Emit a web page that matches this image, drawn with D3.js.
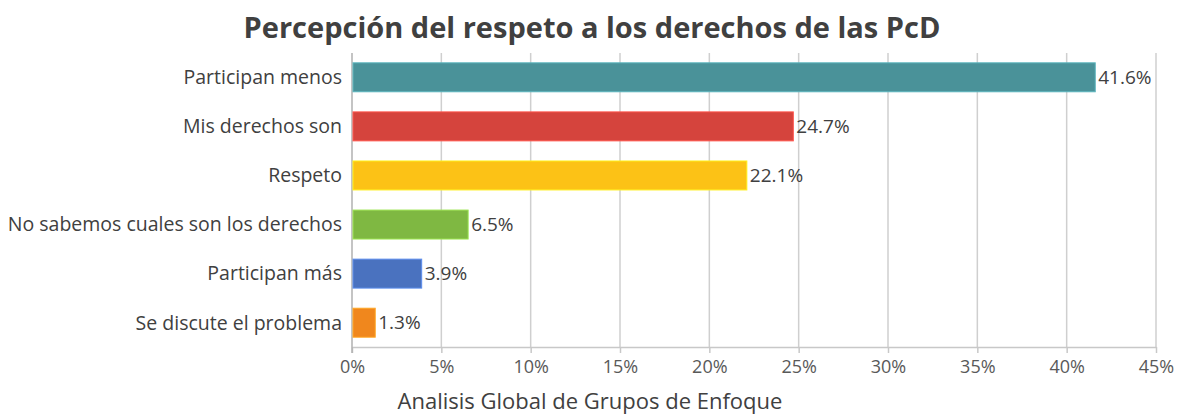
<!DOCTYPE html>
<html>
<head>
<meta charset="utf-8">
<script src="https://cdn.jsdelivr.net/npm/d3@7"></script>
<style>
  body { margin: 0; background: #fff; }
  text { font-family: "Open Sans", "Noto Sans", sans-serif; }
</style>
</head>
<body>
<svg id="chart"></svg>
<script>
// chart data
let categories = ["Participan menos", "Mis derechos son", "Respeto", "No sabemos cuales son los derechos", "Participan más", "Se discute el problema"]
let values = [41.6, 24.7, 22.1, 6.5, 3.9, 1.3]
let colors = ["#4a9299", "#d5443d", "#fcc216", "#7fb842", "#4a72bf", "#f0871d"]
let tickValues = [0, 5, 10, 15, 20, 25, 30, 35, 40, 45]

let width = 1178
let height = 416
let plotLeft = 352
let plotRight = 1156
let plotTop = 53
let plotBottom = 347

let svg = d3.select("#chart").attr("width", width).attr("height", height)

let xScale = d3.scaleLinear().domain([0, 45]).range([plotLeft, plotRight])
let yScale = d3.scaleBand().domain(categories).range([plotTop, plotBottom]).paddingInner(0.41).paddingOuter(0.2)

// title
svg.append("text")
   .attr("x", 592)
   .attr("y", 38)
   .attr("text-anchor", "middle")
   .style("font-size", "29px")
   .style("font-weight", "bold")
   .style("fill", "#404040")
   .text("Percepción del respeto a los derechos de las PcD")

// gridlines
svg.append("g")
   .selectAll("line")
   .data(tickValues.slice(1))
   .enter()
   .append("line")
   .attr("x1", d => xScale(d)).attr("x2", d => xScale(d))
   .attr("y1", plotTop).attr("y2", plotBottom)
   .style("stroke", "#cfcfcf")
   .style("stroke-width", 1.5)

// x axis
let xAxis = d3.axisBottom(xScale)
              .tickValues(tickValues)
              .tickFormat(d => d + "%")
              .tickSize(6)
              .tickSizeOuter(0)
let gx = svg.append("g")
            .attr("transform", "translate(0," + plotBottom + ")")
            .call(xAxis)
gx.select(".domain").style("stroke", "#c8c8c8").style("stroke-width", 1.5)
gx.selectAll(".tick line").style("stroke", "#c8c8c8").style("stroke-width", 1.5)
gx.selectAll(".tick text")
  .attr("dy", "0.95em")
  .style("font-size", "18px")
  .style("fill", "#595959")
  .style("font-family", "'Open Sans', 'Noto Sans', sans-serif")

// y axis line
svg.append("line")
   .attr("x1", plotLeft).attr("x2", plotLeft)
   .attr("y1", plotTop).attr("y2", plotBottom + 6)
   .style("stroke", "#b0b0b0")
   .style("stroke-width", 1.5)

// category labels
svg.append("g")
   .selectAll("text")
   .data(categories)
   .enter()
   .append("text")
   .attr("x", plotLeft - 10)
   .attr("y", d => yScale(d) + yScale.bandwidth() / 2)
   .attr("dy", "0.35em")
   .attr("text-anchor", "end")
   .style("font-size", "19.5px")
   .style("fill", "#404040")
   .text(d => d)

// bars
svg.append("g")
   .selectAll("rect")
   .data(values)
   .enter()
   .append("rect")
   .attr("x", xScale(0) + 1)
   .attr("y", (d, i) => yScale(categories[i]))
   .attr("width", d => xScale(d) - xScale(0) - 1)
   .attr("height", yScale.bandwidth())
   .style("fill", (d, i) => colors[i])
   .style("stroke", (d, i) => d3.color(colors[i]).brighter(0.6))
   .style("stroke-width", 1)

// value labels
svg.append("g")
   .selectAll("text")
   .data(values)
   .enter()
   .append("text")
   .attr("x", d => xScale(d) + 3)
   .attr("y", (d, i) => yScale(categories[i]) + yScale.bandwidth() / 2)
   .attr("dy", "0.35em")
   .style("font-size", "19px")
   .style("fill", "#404040")
   .text(d => d.toFixed(1) + "%")

// axis title
svg.append("text")
   .attr("x", 590)
   .attr("y", 409)
   .attr("text-anchor", "middle")
   .style("font-size", "22px")
   .style("fill", "#404040")
   .text("Analisis Global de Grupos de Enfoque")
</script>
</body>
</html>
